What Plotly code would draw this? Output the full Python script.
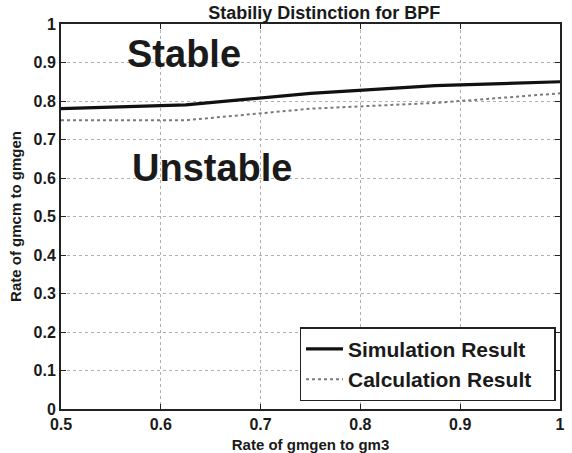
import plotly.graph_objects as go

x_vals = [0.5, 0.625, 0.75, 0.875, 1.0]
simulation = [0.78, 0.79, 0.82, 0.84, 0.85]
calculation = [0.75, 0.75, 0.78, 0.795, 0.82]
x_ticks = [0.5, 0.6, 0.7, 0.8, 0.9, 1.0]
x_tick_labels = ["0.5", "0.6", "0.7", "0.8", "0.9", "1"]
y_ticks = [0, 0.1, 0.2, 0.3, 0.4, 0.5, 0.6, 0.7, 0.8, 0.9, 1.0]
y_tick_labels = ["0", "0.1", "0.2", "0.3", "0.4", "0.5", "0.6", "0.7", "0.8", "0.9", "1"]

FONT = "Liberation Sans, Arial, sans-serif"
INK = "#1a1a1a"
PAD = "\u00a0\u00a0\u00a0"

fig = go.Figure()
fig.add_trace(go.Scatter(x=x_vals, y=simulation, mode="lines", name="Simulation Result" + PAD,
                         line=dict(color="#111111", width=3.2)))
fig.add_trace(go.Scatter(x=x_vals, y=calculation, mode="lines", name="Calculation Result" + PAD,
                         line=dict(color="#7a7a7a", width=2, dash="dot")))

fig.add_annotation(x=0.6235, y=0.923, text="<b>Stable</b>", showarrow=False,
                   font=dict(family=FONT, size=38, color=INK))
fig.add_annotation(x=0.6515, y=0.625, text="<b>Unstable</b>", showarrow=False,
                   font=dict(family=FONT, size=38, color=INK))

axis_common = dict(showline=True, linecolor="#222222", linewidth=2, mirror="ticks",
                   ticks="inside", ticklen=5, tickcolor="#222222", tickwidth=1,
                   showgrid=True, gridcolor="#b0b0b0", griddash="dot", gridwidth=1,
                   zeroline=False,
                   tickfont=dict(family=FONT, size=16, color=INK, weight="bold"))

fig.update_xaxes(range=[0.5, 1.0], tickvals=x_ticks, ticktext=x_tick_labels, automargin=False,
                 title=dict(text="<b>Rate of gmgen to gm3</b>", font=dict(family=FONT, size=15, color=INK)),
                 **axis_common)
fig.update_yaxes(range=[0, 1.0], tickvals=y_ticks, ticktext=y_tick_labels, automargin=True,
                 title=dict(text="<b>Rate of gmcm to gmgen</b>", font=dict(family=FONT, size=15, color=INK),
                            standoff=8),
                 **axis_common)

fig.update_layout(
    width=572, height=453,
    margin=dict(l=61, r=10, t=24, b=44),
    paper_bgcolor="white", plot_bgcolor="white",
    title=dict(text="<b>Stabiliy Distinction for BPF</b>", x=0.567, xanchor="center", y=0.973, yanchor="middle",
               font=dict(family=FONT, size=18, color=INK)),
    legend=dict(x=0.991, y=0.02, xanchor="right", yanchor="bottom",
                bordercolor="#222222", borderwidth=1.5, bgcolor="white",
                font=dict(family=FONT, size=21, color=INK, weight="bold"),
                tracegroupgap=0, itemwidth=37),
    showlegend=True,
)

fig.write_html("out.html", config={"displayModeBar": False},
               post_script="document.body.style.margin='0';")
